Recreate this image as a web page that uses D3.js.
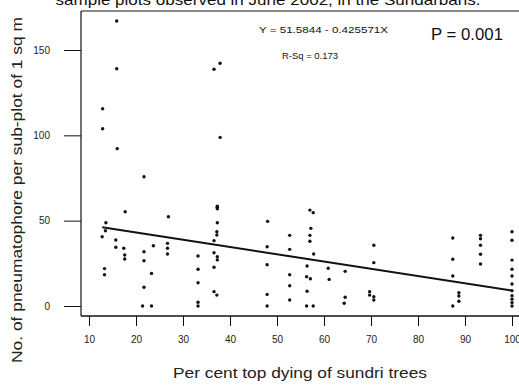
<!DOCTYPE html>
<html><head><meta charset="utf-8">
<script src="https://cdn.jsdelivr.net/npm/d3@7"></script>
<style>body{margin:0;background:#fff}svg{display:block}</style>
</head><body>
<script>
const xTicks = [10,20,30,40,50,60,70,80,90,100];
const yTicks = [0,50,100,150];
const dyingPct = [
  15.9,15.9,12.9,12.9,16,36.6,37.9,37.9,
  21.7,17.7,26.9,37.3,37.3,37.3,13.6,13.5,12.8,15.7,15.7,17.4,17.6,17.6,21.7,23.7,21.7,23.3,21.7,21.4,23.3,13.3,13.3,
  26.7,26.7,26.7,33.2,33.2,33.2,33.2,33.2,36.6,37.3,37.2,37.2,36.6,37.3,37.3,36.6,36.6,37.2,
  48,47.9,47.9,47.9,47.9,52.7,52.7,52.7,52.7,52.7,57,57.7,57.2,57,57,57.8,56.4,56.3,57.1,56.4,56.3,57.7,
  60.9,61.1,64.5,64.5,64.3,70.6,70.6,69.7,69.7,70.6,70.6,
  87.4,87.4,87.4,88.7,88.7,88.7,87.4,93.3,93.3,93.3,93.3,93.3,
  100,100,100,100,100,100,100,100,100,100,100
];
const pneumatophores = [
  167,139,115.6,103.9,92.2,138.7,142.2,98.8,
  75.7,55.2,52.3,57.8,58.5,57,48.8,44.1,40.6,38.7,34.4,33.8,29.9,27.5,31.8,35.3,26.5,19.1,11,0,0,21.9,18.3,
  36.7,33.8,30.5,29.3,21.5,13.6,2.2,0,38.3,48.8,43.5,41.6,31.2,28.9,27,22.7,8.4,6.4,
  49.6,34.7,24.2,6.8,0,41.4,33.2,18.3,11.9,3.5,56.2,54.7,45.5,41.4,37.9,30.5,23.4,17.2,16,8.6,0,0,
  22.1,15.6,20.3,5.1,1.6,35.6,25.4,8.4,6.4,5.4,3.5,
  39.8,27.4,17.6,7.8,5.9,2.8,0,41.4,39.4,35.6,30.3,24.6,
  43.5,38.5,26.9,21.5,17.6,12.9,9,6,4,2,0
];
const intercept = 51.5844, slope = -0.425571;
const titleText = "sample plots observed in June 2002, in the Sundarbans.";
const eqText = "Y = 51.5844 - 0.425571X";
const rsqText = "R-Sq = 0.173";
const pText = "P = 0.001";
const xLabel = "Per cent top dying of sundri trees";
const yLabel = "No. of pneumatophore per sub-plot of 1 sq m";

(function(){
const W = 519, H = 385;
const svg = d3.select("body").append("svg").attr("width", W).attr("height", H)
  .style("font-family", "Arial, 'Liberation Sans', sans-serif");

const x = d3.scaleLinear().domain([10,100]).range([89,512]);
const y = d3.scaleLinear().domain([0,150]).range([306,50]);

const plotLeft = 81, plotTop = 11, plotBottom = 316;

svg.append("text").attr("x", 268).attr("y", 5).attr("text-anchor","middle")
  .attr("font-size", 15).attr("fill","#111").attr("textLength", 425).attr("lengthAdjust","spacingAndGlyphs")
  .text(titleText);

svg.append("line").attr("x1",plotLeft).attr("x2",W).attr("y1",plotTop).attr("y2",plotTop).attr("stroke","#111").attr("stroke-width",1.2);
svg.append("line").attr("x1",plotLeft).attr("x2",plotLeft).attr("y1",plotTop).attr("y2",plotBottom).attr("stroke","#111").attr("stroke-width",1.2);
svg.append("line").attr("x1",plotLeft).attr("x2",W).attr("y1",plotBottom).attr("y2",plotBottom).attr("stroke","#111").attr("stroke-width",1.5);

const yAxis = d3.axisLeft(y).tickValues(yTicks).tickSize(17).tickSizeOuter(0).tickPadding(14).tickFormat(d3.format("d"));
const gy = svg.append("g").attr("transform", `translate(${plotLeft},0)`).call(yAxis);
gy.select(".domain").remove();
gy.selectAll("text").attr("font-size",10).attr("fill","#222").style("font-family","Arial, 'Liberation Sans', sans-serif");
gy.selectAll("line").attr("stroke","#111");

const xAxis = d3.axisBottom(x).tickValues(xTicks).tickSize(10).tickSizeOuter(0).tickPadding(10);
const gx = svg.append("g").attr("transform", `translate(0,${plotBottom})`).call(xAxis);
gx.select(".domain").remove();
gx.selectAll("text").attr("font-size",10).attr("fill","#222").style("font-family","Arial, 'Liberation Sans', sans-serif");
gx.selectAll("line").attr("stroke","#111");

const ext = [d3.min(dyingPct), d3.max(dyingPct)];
svg.append("line")
  .attr("x1", x(ext[0])).attr("y1", y(intercept + slope*ext[0]))
  .attr("x2", x(ext[1])).attr("y2", y(intercept + slope*ext[1]))
  .attr("stroke","#111").attr("stroke-width",2);

svg.append("g").selectAll("circle").data(dyingPct.map((d,i)=>[d,pneumatophores[i]]))
  .join("circle").attr("cx", d=>x(d[0])).attr("cy", d=>y(d[1])).attr("r",1.7).attr("fill","#111");

svg.append("text").attr("x",259).attr("y",33).attr("font-size",9.5).attr("fill","#111").attr("textLength",129).attr("lengthAdjust","spacingAndGlyphs").text(eqText);
svg.append("text").attr("x",282).attr("y",59).attr("font-size",9).attr("fill","#111").attr("textLength",56).attr("lengthAdjust","spacingAndGlyphs").text(rsqText);
svg.append("text").attr("x",431).attr("y",40).attr("font-size",16).attr("fill","#111").attr("textLength",72).attr("lengthAdjust","spacingAndGlyphs").text(pText);

svg.append("text").attr("x",300).attr("y",378).attr("text-anchor","middle").attr("font-size",14).attr("fill","#222")
  .attr("textLength",254).attr("lengthAdjust","spacingAndGlyphs").text(xLabel);
svg.append("text").attr("transform","translate(22,190) rotate(-90)").attr("text-anchor","middle").attr("font-size",15).attr("fill","#222")
  .attr("textLength",346).attr("lengthAdjust","spacingAndGlyphs").text(yLabel);
})();
</script>
</body></html>
